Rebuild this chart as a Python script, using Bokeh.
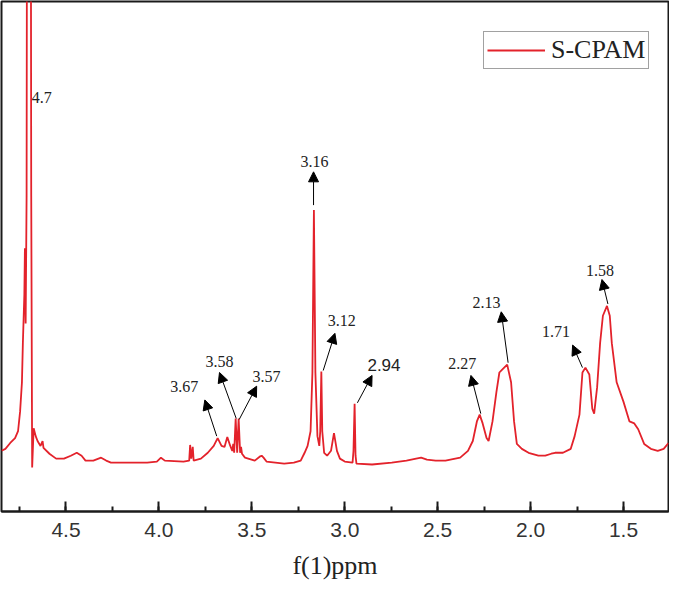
from bokeh.plotting import figure
from bokeh.models import Range1d, SingleIntervalTicker, Arrow, NormalHead, Label, NumeralTickFormatter
from bokeh.embed import file_html
from bokeh.resources import INLINE

# ---- spectrum data (ppm, intensity in arbitrary units) ----
ppm = [4.847, 4.826, 4.800, 4.774, 4.758, 4.747, 4.737, 4.732, 4.724, 4.721, 4.717, 4.712,
       4.708, 4.691, 4.687, 4.682, 4.674, 4.663, 4.653, 4.637, 4.626, 4.621, 4.589, 4.553,
       4.511, 4.474, 4.442, 4.416, 4.395, 4.353, 4.311, 4.284, 4.258, 4.063, 4.011, 3.989,
       3.968, 3.868, 3.837, 3.832, 3.826, 3.818, 3.813, 3.774, 3.737, 3.705, 3.684, 3.663,
       3.647, 3.632, 3.616, 3.605, 3.600, 3.595, 3.587, 3.579, 3.571, 3.563, 3.558, 3.553,
       3.537, 3.484, 3.458, 3.447, 3.437, 3.421, 3.326, 3.274, 3.237, 3.216, 3.200, 3.184,
       3.174, 3.166, 3.158, 3.147, 3.137, 3.132, 3.126, 3.121, 3.111, 3.095, 3.074, 3.058,
       3.042, 3.026, 3.000, 2.958, 2.953, 2.947, 2.942, 2.937, 2.853, 2.747, 2.668, 2.616,
       2.589, 2.558, 2.511, 2.458, 2.379, 2.337, 2.311, 2.289, 2.274, 2.258, 2.237, 2.226,
       2.205, 2.184, 2.168, 2.153, 2.126, 2.105, 2.089, 2.074, 2.047, 2.011, 1.958, 1.921,
       1.889, 1.868, 1.826, 1.784, 1.763, 1.737, 1.721, 1.705, 1.684, 1.668, 1.658, 1.642,
       1.626, 1.611, 1.589, 1.574, 1.563, 1.537, 1.500, 1.468, 1.442, 1.421, 1.389, 1.353,
       1.316, 1.284, 1.258]
intensity = [62, 64, 70, 75, 82, 102, 132, 172, 222, 269, 192, 322,
             922, 922, 322, 45, 85, 77, 72, 67, 72, 65, 59, 54,
             54, 57, 60, 57, 52, 52, 55, 52, 50, 50, 51, 55,
             52, 51, 52, 68, 54, 66, 52, 54, 60, 67, 75, 67,
             66, 76, 67, 62, 69, 60, 95, 60, 95, 60, 66, 59,
             55, 52, 56, 57, 55, 51, 49, 50, 52, 60, 67, 82,
             142, 308, 142, 77, 67, 82, 143, 82, 60, 57, 62, 80,
             62, 54, 51, 50, 62, 110, 57, 49, 48, 50, 52, 54,
             55, 53, 52, 52, 55, 62, 72, 92, 99, 90, 75, 72,
             92, 122, 142, 145, 150, 132, 92, 69, 64, 60, 57, 57,
             59, 60, 60, 64, 77, 99, 142, 147, 140, 105, 100, 127,
             172, 200, 210, 200, 172, 132, 112, 92, 90, 84, 69, 64,
             62, 64, 70]

series_name = "S-CPAM"
tick_interval = 0.5

# ---- peak annotations ----
peak_labels = ["3.67", "3.58", "3.57", "3.16", "3.12", "2.27", "2.13", "1.71", "1.58"]
# annotation layout (data units)
arrow_x0 = [3.689, 3.584, 3.568, 3.168, 3.116, 2.268, 2.121, 1.721, 1.584]
arrow_y0 = [77, 95, 94, 313, 144, 100, 152, 147, 212]
arrow_x1 = [3.753, 3.674, 3.474, 3.168, 3.053, 2.321, 2.158, 1.774, 1.616]
arrow_y1 = [114, 142, 128, 347, 182, 139, 204, 170, 237]
label_x = [3.863, 3.674, 3.421, 3.163, 3.016, 2.368, 2.237, 1.863, 1.626]
label_y = [128, 153, 138, 358, 195, 151, 213, 184, 246]

solvent_label = "4.7"
solvent_pos = (4.684, 423)
extra_label = "2.94"
extra_arrow = (2.932, 111, 2.853, 139)
extra_pos = (2.789, 150)

p = figure(width=669, height=587, output_backend="svg", toolbar_location=None,
           x_range=Range1d(4.847, 1.258), y_range=Range1d(0, 521),
           y_axis_location=None,
           min_border_left=1, min_border_right=1, min_border_top=1, min_border_bottom=76,
           background_fill_color="white", border_fill_color="white")
p.grid.visible = False
p.outline_line_color = "#1a1a1a"
p.outline_line_width = 2

r = p.line(ppm, intensity, line_color="#e3222b", line_width=1.8, legend_label=series_name)

ax = p.xaxis[0]
ax.ticker = SingleIntervalTicker(interval=tick_interval, num_minor_ticks=2)
ax.formatter = NumeralTickFormatter(format="0.0")
ax.axis_line_color = "#1a1a1a"
ax.axis_line_width = 2
ax.major_tick_line_color = "#1a1a1a"
ax.major_tick_line_width = 2
ax.major_tick_in = 10
ax.major_tick_out = 0
ax.minor_tick_line_color = "#1a1a1a"
ax.minor_tick_line_width = 2
ax.minor_tick_in = 5
ax.minor_tick_out = 0
ax.major_label_text_font = "Liberation Sans"
ax.major_label_text_font_size = "21px"
ax.major_label_text_color = "#333333"
ax.major_label_standoff = 11
ax.axis_label = "f(1)ppm"
ax.axis_label_text_font = "Liberation Serif"
ax.axis_label_text_font_size = "26px"
ax.axis_label_text_font_style = "normal"
ax.axis_label_text_color = "#222222"
ax.axis_label_standoff = 11

for x0, y0, x1, y1 in list(zip(arrow_x0, arrow_y0, arrow_x1, arrow_y1)) + [extra_arrow]:
    p.add_layout(Arrow(end=NormalHead(size=10, fill_color="black", line_color="black", line_width=1),
                       x_start=x0, y_start=y0, x_end=x1, y_end=y1,
                       line_color="black", line_width=1))

for t, x, y in zip(peak_labels, label_x, label_y):
    p.add_layout(Label(x=x, y=y, text=t, text_align="center", text_baseline="middle",
                       text_font="Liberation Serif", text_font_size="16px", text_color="#222222"))
p.add_layout(Label(x=solvent_pos[0], y=solvent_pos[1], text=solvent_label, text_align="left",
                   text_baseline="middle", text_font="Liberation Serif", text_font_size="16px",
                   text_color="#222222"))
p.add_layout(Label(x=extra_pos[0], y=extra_pos[1], text=extra_label, text_align="center",
                   text_baseline="middle", text_font="Liberation Sans", text_font_size="17px",
                   text_color="#222222"))

lg = p.legend[0]
lg.location = (482, 442)
lg.label_text_font = "Liberation Serif"
lg.label_text_font_size = "26px"
lg.label_text_color = "#222222"
lg.glyph_width = 58
lg.glyph_height = 26
lg.label_standoff = 6
lg.padding = 3
lg.margin = 0
lg.border_line_color = "#444444"
lg.border_line_width = 1.5
lg.background_fill_alpha = 1

open("out.html", "w").write(file_html(p, INLINE))
